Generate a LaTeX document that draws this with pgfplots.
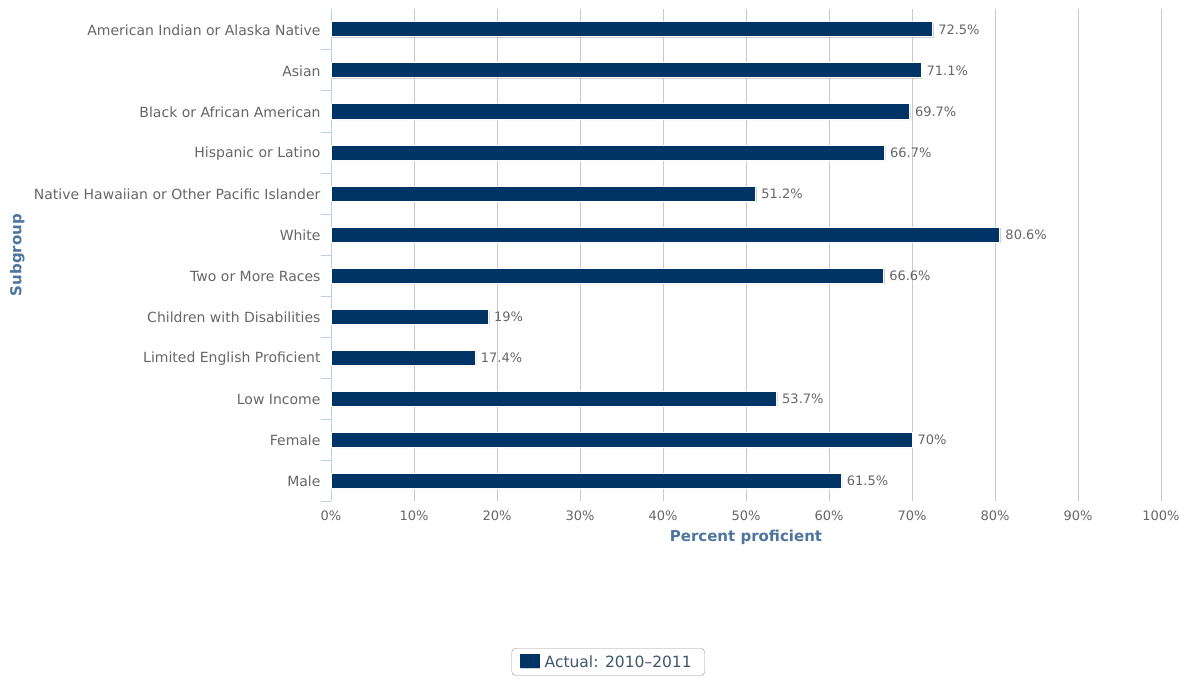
\documentclass[border=0pt]{standalone}
\usepackage{fontspec}
\setmainfont{DejaVu Sans}
\usepackage{pgfplots}
\pgfplotsset{compat=1.18}
\usetikzlibrary{shadows}
\definecolor{barcol}{HTML}{003366}
\definecolor{axline}{HTML}{C0D0E0}
\definecolor{gridc}{HTML}{C8C8C8}
\definecolor{lbl}{HTML}{666666}
\definecolor{ttl}{HTML}{4D759E}
\definecolor{leg}{HTML}{3E576F}
\begin{document}
\begin{tikzpicture}[x=1pt,y=1pt]
\useasboundingbox (0,0) rectangle (1185,682);
\begin{axis}[
  at={(331pt,181pt)}, anchor=south west,
  scale only axis, width=830pt, height=492pt,
  xbar, bar width=15pt,
  xmin=0, xmax=100,
  ymin=-0.5, ymax=11.5, y dir=reverse,
  axis y line*=left, axis x line*=bottom,
  x axis line style={draw=none},
  y axis line style={draw=axline, line width=1pt},
  xtick={0,10,...,100},
  xticklabels={0\%,10\%,20\%,30\%,40\%,50\%,60\%,70\%,80\%,90\%,100\%},
  ytick={0,...,11},
  yticklabels={American Indian or Alaska Native,Asian,Black or African American,Hispanic or Latino,Native Hawaiian or Other Pacific Islander,White,Two or More Races,Children with Disabilities,Limited English Proficient,Low Income,Female,Male},
  minor ytick={0.5,1.5,...,11.5},
  major tick length=0pt,
  minor tick length=10pt,
  tick align=outside,
  minor tick style={draw=axline, line width=1pt},
  xmajorgrids,
  major grid style={draw=gridc, line width=1pt},
  xticklabel style={font=\fontsize{13}{15}\selectfont, text=lbl, yshift=-6pt},
  yticklabel style={font=\fontsize{14}{16}\selectfont, text=lbl, xshift=-7pt, yshift=-1pt},
  /pgf/number format/assume math mode=true,
  xlabel={Percent proficient},
  xlabel style={at={(axis description cs:0.5,-0.073)}, anchor=center, font=\fontsize{15}{17}\selectfont\bfseries, text=ttl},
  ylabel={Subgroup},
  ylabel style={at={(axis description cs:-0.378,0.5)}, anchor=center, font=\fontsize{15}{17}\selectfont\bfseries, text=ttl},
  nodes near coords={\pgfmathprintnumber{\pgfplotspointmeta}\%},
  point meta=x,
  nodes near coords style={font=\fontsize{13}{15}\selectfont, text=lbl, anchor=west, inner sep=2pt, xshift=3pt},
  legend style={at={(0.334,-0.327)}, anchor=center, draw=gray!80, rounded corners=4pt,
    font=\fontsize{15.5}{17}\selectfont, text=leg, inner xsep=8pt, inner ysep=5pt,
    nodes={inner xsep=5pt}},
  legend image code/.code={\fill[barcol, sharp corners] (0pt,-6pt) rectangle (19pt,7pt);},
]
\addplot[fill=barcol, draw=white, line width=1pt,
  drop shadow={shadow xshift=1pt, shadow yshift=-1pt, opacity=0.25, fill=black}]
  coordinates {
  (72.5,0) (71.1,1) (69.7,2) (66.7,3) (51.2,4) (80.6,5)
  (66.6,6) (19,7) (17.4,8) (53.7,9) (70,10) (61.5,11)
};
\addlegendentry{Actual: 2010–2011}
\end{axis}
\end{tikzpicture}
\end{document}
